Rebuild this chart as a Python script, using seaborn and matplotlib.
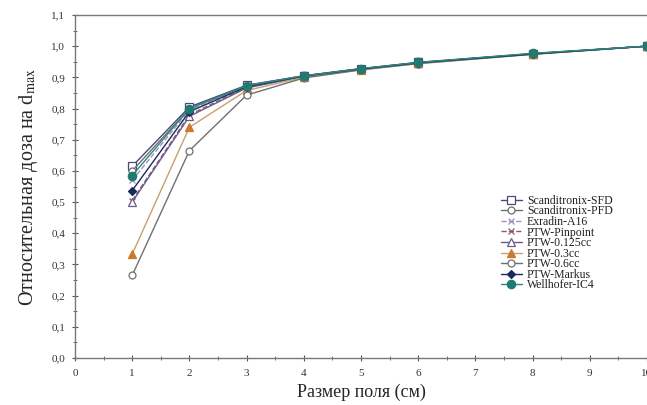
import matplotlib
matplotlib.use("Agg")
import matplotlib.pyplot as plt
import seaborn as sns
import pandas as pd
from matplotlib.ticker import MultipleLocator, FuncFormatter

field_size = [1, 2, 3, 4, 5, 6, 8, 10]

series_names = ["Scanditronix-SFD", "Scanditronix-PFD", "Exradin-A16", "PTW-Pinpoint",
                "PTW-0.125cc", "PTW-0.3cc", "PTW-0.6cc", "PTW-Markus", "Wellhofer-IC4"]

sfd      = [0.615, 0.805, 0.875, 0.905, 0.928, 0.948, 0.976, 1.0]
pfd      = [0.600, 0.800, 0.873, 0.905, 0.928, 0.947, 0.976, 1.0]
exradin  = [0.570, 0.795, 0.872, 0.904, 0.927, 0.947, 0.975, 1.0]
pinpoint = [0.505, 0.780, 0.868, 0.903, 0.927, 0.946, 0.975, 1.0]
ptw125   = [0.500, 0.775, 0.866, 0.903, 0.926, 0.946, 0.975, 1.0]
ptw03    = [0.333, 0.740, 0.858, 0.900, 0.925, 0.945, 0.974, 1.0]
ptw06    = [0.265, 0.665, 0.843, 0.898, 0.924, 0.944, 0.974, 1.0]
markus   = [0.537, 0.790, 0.870, 0.904, 0.927, 0.947, 0.975, 1.0]
ic4      = [0.585, 0.800, 0.873, 0.905, 0.928, 0.948, 0.977, 1.0]
ic4_err  = [0.010, 0.012, 0.010, 0.012, 0.008, 0.015, 0.012, 0.012]

all_values = [sfd, pfd, exradin, pinpoint, ptw125, ptw03, ptw06, markus, ic4]

x_ticks = [0, 1, 2, 3, 4, 5, 6, 7, 8, 9, 10]
y_ticks = [0.0, 0.1, 0.2, 0.3, 0.4, 0.5, 0.6, 0.7, 0.8, 0.9, 1.0, 1.1]

styles = {
    "Scanditronix-SFD": dict(color="#4a4a7a", marker="s", mfc="white", mec="#4a4a7a", ls="-", ms=6),
    "Scanditronix-PFD": dict(color="#6e6e6e", marker="o", mfc="white", mec="#6e6e6e", ls="-", ms=5),
    "Exradin-A16":      dict(color="#a88cc0", marker="x", mfc="#a88cc0", mec="#a88cc0", ls="--", ms=5),
    "PTW-Pinpoint":     dict(color="#8a5a6a", marker="x", mfc="#c04020", mec="#8a5a6a", ls="--", ms=5),
    "PTW-0.125cc":      dict(color="#6a5a90", marker="^", mfc="white", mec="#6a5a90", ls="-", ms=6),
    "PTW-0.3cc":        dict(color="#c8a070", marker="^", mfc="#d0782a", mec="#d0782a", ls="-", ms=6),
    "PTW-0.6cc":        dict(color="#707070", marker="o", mfc="white", mec="#707070", ls="-", ms=5),
    "PTW-Markus":       dict(color="#1a2a5a", marker="D", mfc="#1a2a5a", mec="#1a2a5a", ls="-", ms=4),
    "Wellhofer-IC4":    dict(color="#2a8a80", marker="o", mfc="#1f7a70", mec="#1f7a70", ls="-", ms=6),
}

sns.set_style("ticks")
plt.rcParams["font.family"] = ["Liberation Serif", "DejaVu Serif"]
plt.rcParams["mathtext.fontset"] = "stix"

fig = plt.figure(figsize=(6.47, 4.05), dpi=100)
ax = fig.add_axes([75 / 647, 47 / 405, 572 / 647, 343 / 405])

for name, vals in zip(series_names, all_values):
    st = styles[name]
    df = pd.DataFrame({"x": field_size, "y": vals})
    sns.lineplot(data=df, x="x", y="y", ax=ax, color=st["color"], linestyle=st["ls"],
                 linewidth=1.0, marker=st["marker"], markersize=st["ms"],
                 markerfacecolor=st["mfc"], markeredgecolor=st["mec"], markeredgewidth=0.9,
                 label=name, clip_on=False, zorder=3)

ax.errorbar(field_size, ic4, yerr=ic4_err, fmt="none", ecolor="#404040", elinewidth=0.8,
            capsize=2, zorder=2)

ax.set_xlim(0, 10)
ax.set_ylim(0, 1.1)
ax.set_xticks(x_ticks)
ax.set_yticks(y_ticks)
ax.xaxis.set_minor_locator(MultipleLocator(0.5))
ax.yaxis.set_minor_locator(MultipleLocator(0.05))
ax.xaxis.set_major_formatter(FuncFormatter(lambda v, p: f"{int(round(v))}"))
ax.yaxis.set_major_formatter(FuncFormatter(lambda v, p: f"{v:.1f}".replace(".", ",")))
ax.tick_params(axis="both", which="major", labelsize=8, length=4, color="#555555",
               labelcolor="#333333", direction="inout", pad=5)
ax.tick_params(axis="both", which="minor", length=2.5, color="#555555", direction="inout")
ax.tick_params(axis="x", pad=6)

for s in ["left", "bottom", "top"]:
    ax.spines[s].set_visible(True)
    ax.spines[s].set_color("#777777")
    ax.spines[s].set_linewidth(1.0)
ax.spines["right"].set_visible(False)

ax.set_xlabel("Размер поля (см)", fontsize=13, labelpad=4)
ax.set_ylabel("Относительная доза на d$_{\\mathrm{max}}$", fontsize=14.5, labelpad=8)

leg = ax.legend(loc="upper left", bbox_to_anchor=(0.73, 0.50), frameon=False, fontsize=8.5,
                handlelength=1.8, labelspacing=-0.12, borderpad=0.2, handletextpad=0.4)
for t in leg.get_texts():
    t.set_color("#222222")

fig.savefig("out.png", dpi=100)
